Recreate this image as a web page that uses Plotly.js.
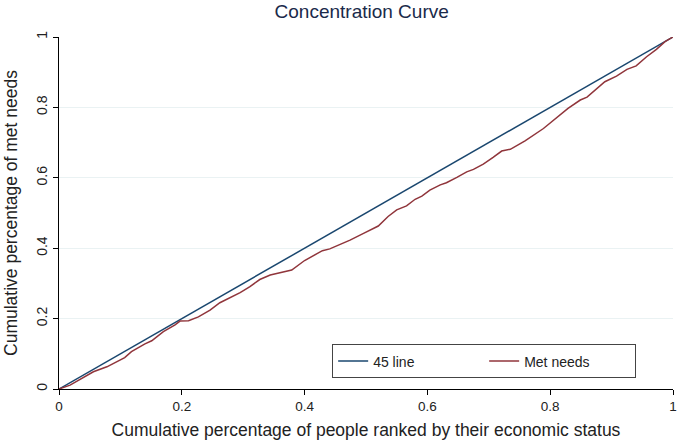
<!DOCTYPE html>
<html>
<head>
<meta charset="utf-8">
<script src="https://cdn.plot.ly/plotly-3.0.1.min.js"></script>
<style>
  html, body { margin: 0; padding: 0; background: #fff; }
  #chart { width: 685px; height: 446px; }
</style>
</head>
<body>
<div id="chart"></div>
<script>
// 45 degree line
var lineX = [0, 1];
var lineY = [0, 1];

// concentration curve
var curveX = [0, 0.018, 0.056, 0.078, 0.107, 0.118, 0.14, 0.151, 0.17, 0.189,
  0.197, 0.211, 0.227, 0.246, 0.262, 0.279, 0.295, 0.311, 0.327, 0.344,
  0.357, 0.379, 0.4, 0.429, 0.441, 0.474, 0.496, 0.52, 0.536, 0.55,
  0.566, 0.58, 0.591, 0.604, 0.621, 0.631, 0.648, 0.664, 0.675, 0.691,
  0.707, 0.721, 0.735, 0.759, 0.789, 0.808, 0.829, 0.849, 0.86, 0.889,
  0.908, 0.925, 0.94, 0.957, 0.973, 0.987, 1];
var curveY = [0, 0.011, 0.049, 0.063, 0.089, 0.106, 0.128, 0.137, 0.163, 0.182,
  0.193, 0.194, 0.205, 0.224, 0.245, 0.26, 0.274, 0.291, 0.311, 0.324,
  0.329, 0.338, 0.365, 0.393, 0.398, 0.423, 0.442, 0.463, 0.49, 0.509,
  0.52, 0.539, 0.548, 0.565, 0.58, 0.586, 0.601, 0.617, 0.624, 0.639,
  0.658, 0.676, 0.681, 0.705, 0.74, 0.766, 0.797, 0.821, 0.829, 0.873,
  0.889, 0.908, 0.918, 0.944, 0.965, 0.987, 1];

var seriesNames = ['45 line', 'Met needs'];
var tickVals = [0, 0.2, 0.4, 0.6, 0.8, 1];
var tickText = ['0', '0.2', '0.4', '0.6', '0.8', '1'];

var data = [
  {
    x: lineX, y: lineY, name: seriesNames[0],
    type: 'scatter', mode: 'lines',
    line: {color: '#1a476f', width: 1.5}
  },
  {
    x: curveX, y: curveY, name: seriesNames[1],
    type: 'scatter', mode: 'lines',
    line: {color: '#90353b', width: 1.5}
  }
];

var font = "'Liberation Sans', Arial, sans-serif";

var layout = {
  width: 685,
  height: 446,
  margin: {l: 59, r: 12, t: 37, b: 57},
  paper_bgcolor: '#fff',
  plot_bgcolor: '#fff',
  font: {family: font, color: '#222', size: 12},
  title: {
    text: 'Concentration Curve',
    font: {family: font, size: 19, color: '#1a2a4a'},
    x: 0.528, xanchor: 'center', y: 0.99, yanchor: 'top'
  },
  xaxis: {
    range: [0, 1],
    tickvals: tickVals, ticktext: tickText,
    ticks: 'outside', ticklen: 5, tickcolor: '#000',
    showline: true, linecolor: '#000', linewidth: 1,
    showgrid: false, zeroline: false,
    tickfont: {size: 13.5, color: '#222'},
    title: {text: 'Cumulative percentage of people ranked by their economic status',
      font: {size: 17.5, color: '#222'}, standoff: 10}
  },
  yaxis: {
    range: [0, 1],
    tickvals: tickVals, ticktext: tickText,
    tickangle: -90,
    ticks: 'outside', ticklen: 5, tickcolor: '#000',
    showline: true, linecolor: '#000', linewidth: 1,
    showgrid: true, gridcolor: '#eaf2f3', gridwidth: 1,
    zeroline: false,
    tickfont: {size: 14, color: '#222'},
    title: {text: 'Cumulative percentage of met needs',
      font: {size: 17.5, color: '#222'}, standoff: 12}
  },
  showlegend: true,
  legend: {
    orientation: 'h',
    x: 0.94, xanchor: 'right',
    y: 0.03, yanchor: 'bottom',
    bgcolor: '#fff',
    bordercolor: '#444', borderwidth: 1,
    font: {size: 14, color: '#222'},
    entrywidth: 106, entrywidthmode: 'pixels'
  }
};

Plotly.newPlot('chart', data, layout, {displayModeBar: false, staticPlot: true});
</script>
</body>
</html>
